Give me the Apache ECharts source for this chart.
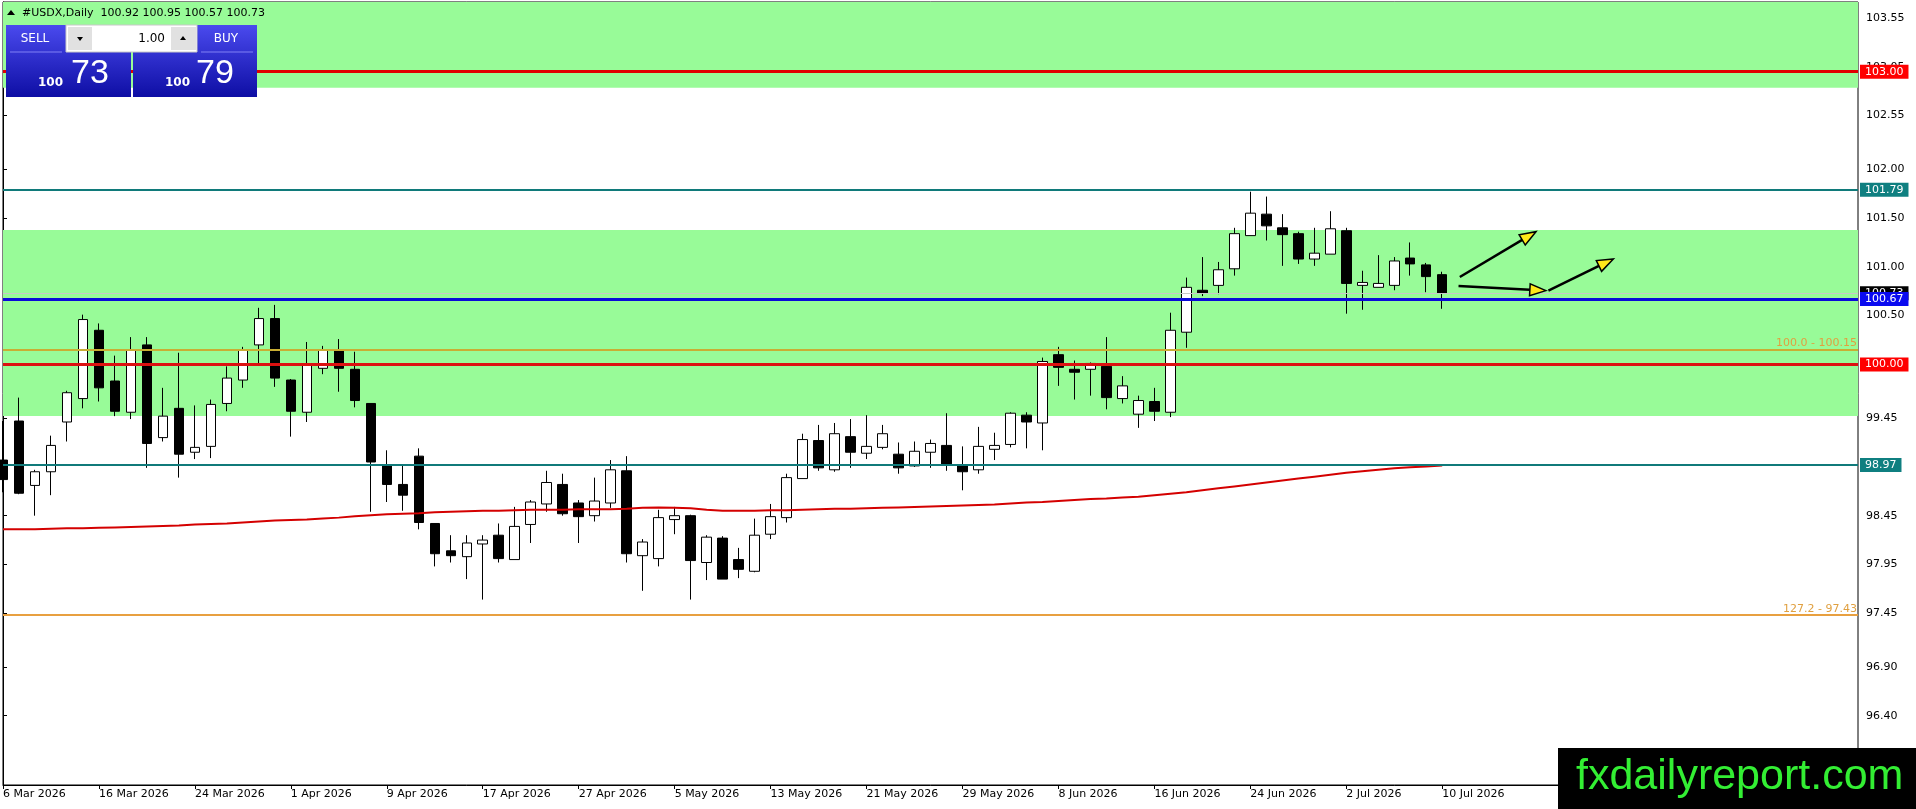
<!DOCTYPE html>
<html lang="en">
<head>
    <meta charset="UTF-8">
    <title>USDX daily</title>
    <script src="https://cdn.jsdelivr.net/npm/echarts@6/dist/echarts.min.js"></script>
    <style>
        html, body { margin: 0; padding: 0; background: #fff; }
        #main { width: 1916px; height: 809px; }
    </style>
</head>
<body>
<div id="main"></div>
<script>
    // daily bars, 6 Mar 2026 .. 10 Jul 2026
    const dates = [
        '6 Mar 2026', '9 Mar 2026', '10 Mar 2026', '11 Mar 2026', '12 Mar 2026', '13 Mar 2026',
        '16 Mar 2026', '17 Mar 2026', '18 Mar 2026', '19 Mar 2026', '20 Mar 2026',
        '23 Mar 2026', '24 Mar 2026', '25 Mar 2026', '26 Mar 2026', '27 Mar 2026',
        '30 Mar 2026', '31 Mar 2026', '1 Apr 2026', '2 Apr 2026', '3 Apr 2026',
        '6 Apr 2026', '7 Apr 2026', '8 Apr 2026', '9 Apr 2026', '10 Apr 2026',
        '13 Apr 2026', '14 Apr 2026', '15 Apr 2026', '16 Apr 2026', '17 Apr 2026',
        '20 Apr 2026', '21 Apr 2026', '22 Apr 2026', '23 Apr 2026', '24 Apr 2026',
        '27 Apr 2026', '28 Apr 2026', '29 Apr 2026', '30 Apr 2026', '1 May 2026',
        '4 May 2026', '5 May 2026', '6 May 2026', '7 May 2026', '8 May 2026',
        '11 May 2026', '12 May 2026', '13 May 2026', '14 May 2026', '15 May 2026',
        '18 May 2026', '19 May 2026', '20 May 2026', '21 May 2026', '22 May 2026',
        '25 May 2026', '26 May 2026', '27 May 2026', '28 May 2026', '29 May 2026',
        '1 Jun 2026', '2 Jun 2026', '3 Jun 2026', '4 Jun 2026', '5 Jun 2026',
        '8 Jun 2026', '9 Jun 2026', '10 Jun 2026', '11 Jun 2026', '12 Jun 2026',
        '15 Jun 2026', '16 Jun 2026', '17 Jun 2026', '18 Jun 2026', '19 Jun 2026',
        '22 Jun 2026', '23 Jun 2026', '24 Jun 2026', '25 Jun 2026', '26 Jun 2026',
        '29 Jun 2026', '30 Jun 2026', '1 Jul 2026', '2 Jul 2026', '3 Jul 2026',
        '6 Jul 2026', '7 Jul 2026', '8 Jul 2026', '9 Jul 2026', '10 Jul 2026'
    ];
    const emptySlots = 26; // blank space right of the last bar

    const opens = [
        99.02, 99.42, 98.76, 98.90, 99.41, 99.65, 100.35, 99.83, 99.51, 100.20,
        99.25, 99.55, 99.10, 99.16, 99.60, 99.84, 100.20, 100.47, 99.84, 99.51,
        99.96, 100.15, 99.95, 99.60, 98.96, 98.77, 99.06, 98.37, 98.09, 98.03,
        98.16, 98.25, 98.00, 98.36, 98.57, 98.77, 98.58, 98.45, 98.58, 98.91,
        98.04, 98.01, 98.41, 98.45, 97.97, 98.22, 98.00, 97.88, 98.26, 98.43,
        98.83, 99.22, 98.92, 99.26, 99.09, 99.15, 99.08, 98.96, 99.10, 99.17,
        98.96, 98.92, 99.13, 99.18, 99.48, 99.40, 100.10, 99.95, 99.95, 99.98,
        99.65, 99.49, 99.62, 99.51, 100.33, 100.76, 100.81, 100.98, 101.32, 101.54,
        101.40, 101.34, 101.08, 101.13, 101.37, 100.81, 100.79, 100.81, 101.09, 101.02,
        100.92
    ];
    const highs = [
        99.42, 99.66, 98.92, 99.27, 99.73, 100.51, 100.42, 100.09, 100.28, 100.28,
        99.76, 100.12, 99.58, 99.64, 99.98, 100.18, 100.58, 100.61, 99.85, 100.23,
        100.19, 100.26, 100.13, 99.60, 99.12, 98.96, 99.14, 98.37, 98.25, 98.25,
        98.25, 98.37, 98.54, 98.61, 98.91, 98.88, 98.61, 98.84, 99.02, 99.06,
        98.21, 98.51, 98.54, 98.46, 98.25, 98.24, 98.12, 98.42, 98.57, 98.88,
        99.29, 99.38, 99.40, 99.44, 99.48, 99.38, 99.20, 99.21, 99.23, 99.50,
        99.16, 99.36, 99.30, 99.51, 99.51, 100.07, 100.18, 100.04, 100.02, 100.28,
        99.88, 99.68, 99.76, 100.53, 100.89, 101.10, 101.05, 101.40, 101.77, 101.72,
        101.54, 101.36, 101.40, 101.57, 101.40, 100.96, 101.12, 101.10, 101.25, 101.04,
        100.95
    ];
    const lows = [
        98.69, 98.67, 98.45, 98.66, 99.21, 99.55, 99.62, 99.47, 99.44, 98.94,
        99.21, 98.84, 99.03, 99.04, 99.52, 99.76, 100.01, 99.77, 99.26, 99.41,
        99.90, 99.72, 99.56, 98.49, 98.59, 98.50, 98.31, 97.93, 97.97, 97.80,
        97.59, 97.97, 98.00, 98.17, 98.49, 98.45, 98.17, 98.39, 98.53, 97.97,
        97.68, 97.93, 98.26, 97.59, 97.79, 97.80, 97.81, 97.87, 98.21, 98.38,
        98.83, 98.91, 98.90, 98.94, 99.03, 99.13, 98.88, 98.95, 98.94, 98.91,
        98.71, 98.88, 99.02, 99.15, 99.14, 99.12, 99.78, 99.64, 99.68, 99.54,
        99.60, 99.35, 99.42, 99.46, 100.17, 100.70, 100.72, 100.91, 101.32, 101.27,
        101.01, 101.03, 101.01, 101.13, 100.52, 100.56, 100.79, 100.76, 100.91, 100.74,
        100.57
    ];
    const closes = [
        98.82, 98.68, 98.90, 99.17, 99.71, 100.46, 99.76, 99.52, 100.15, 99.19,
        99.47, 99.08, 99.15, 99.59, 99.86, 100.15, 100.47, 99.86, 99.52, 100.00,
        100.15, 99.96, 99.63, 99.00, 98.77, 98.66, 98.38, 98.06, 98.04, 98.17,
        98.20, 98.01, 98.34, 98.59, 98.79, 98.47, 98.44, 98.60, 98.92, 98.06,
        98.18, 98.43, 98.45, 97.99, 98.23, 97.80, 97.90, 98.25, 98.44, 98.84,
        99.23, 98.94, 99.29, 99.10, 99.16, 99.29, 98.94, 99.11, 99.19, 98.98,
        98.90, 99.16, 99.17, 99.50, 99.41, 100.03, 99.97, 99.92, 100.01, 99.66,
        99.78, 99.63, 99.52, 100.35, 100.79, 100.73, 100.97, 101.34, 101.55, 101.42,
        101.33, 101.08, 101.14, 101.39, 100.83, 100.84, 100.83, 101.06, 101.03, 100.90,
        100.73
    ];
    // red moving average
    const maValues = [
        98.31, 98.31, 98.31, 98.315, 98.32, 98.32, 98.325, 98.33, 98.335, 98.34,
        98.345, 98.35, 98.36, 98.365, 98.37, 98.38, 98.39, 98.40, 98.405, 98.41,
        98.42, 98.43, 98.445, 98.455, 98.465, 98.47, 98.475, 98.485, 98.49, 98.495,
        98.50, 98.50, 98.505, 98.51, 98.51, 98.51, 98.515, 98.515, 98.515, 98.52,
        98.53, 98.535, 98.53, 98.525, 98.51, 98.50, 98.50, 98.50, 98.505, 98.505,
        98.51, 98.515, 98.52, 98.52, 98.525, 98.53, 98.535, 98.54, 98.545, 98.55,
        98.555, 98.56, 98.565, 98.575, 98.585, 98.59, 98.60, 98.61, 98.62, 98.625,
        98.635, 98.645, 98.66, 98.675, 98.69, 98.71, 98.73, 98.75, 98.77, 98.79,
        98.81, 98.83, 98.85, 98.87, 98.89, 98.905, 98.92, 98.935, 98.945, 98.955,
        98.965
    ];

    const priceTicks = [103.55, 103.05, 102.55, 102.00, 101.50, 101.00, 100.50, 100.00,
        99.45, 98.95, 98.45, 97.95, 97.45, 96.90, 96.40];
    const priceMin = 95.69;
    const priceMax = 103.714;

    // green zones [bottom, top]
    const zones = [[102.836, 103.714], [99.472, 101.378]];

    // arrows: [fromBar, fromPrice, toBar, toPrice]
    const arrows = [
        [91.1, 100.896, 95.86, 101.36],
        [91.02, 100.804, 96.48, 100.756],
        [96.64, 100.756, 100.7, 101.081]
    ];

    const header = '#USDX,Daily  100.92 100.95 100.57 100.73';
    const sellPrice = ['100', '73'];
    const buyPrice = ['100', '79'];
    const lotSize = '1.00';

    const font = 'DejaVu Sans';
    const totalSlots = dates.length + emptySlots;
    const categories = dates.concat(new Array(emptySlots).fill(''));
    const candles = dates.map(function (d, i) {
        return [opens[i], closes[i], lows[i], highs[i]];
    });
    const showDate = function (i) { return i % 6 === 0 && i < dates.length; };

    function priceTag(value, bg, line, width) {
        return {
            yAxis: value,
            lineStyle: {color: line, width: width, type: 'solid'},
            label: {
                show: true, position: 'end', distance: 2,
                formatter: value.toFixed(2),
                color: '#fff', backgroundColor: bg,
                fontFamily: font, fontSize: 11, lineHeight: 13,
                padding: [1, 5, 0, 5]
            }
        };
    }
    function fiboLevel(value, text, line) {
        return {
            yAxis: value,
            lineStyle: {color: line, width: 2, type: 'solid'},
            label: {
                show: true, position: 'insideEndTop', distance: 1,
                formatter: text, color: '#E0A040',
                fontFamily: font, fontSize: 11
            }
        };
    }

    function renderArrow(params, api) {
        const a = api.coord([api.value(0), api.value(1)]);
        const b = api.coord([api.value(2), api.value(3)]);
        const dx = b[0] - a[0], dy = b[1] - a[1];
        const len = Math.sqrt(dx * dx + dy * dy);
        const ux = dx / len, uy = dy / len;
        const head = 16, half = 6;
        const bx = b[0] - ux * head, by = b[1] - uy * head;
        return {
            type: 'group',
            children: [{
                type: 'line',
                shape: {x1: a[0], y1: a[1], x2: bx, y2: by},
                style: {stroke: '#000', lineWidth: 2.5}
            }, {
                type: 'polygon',
                shape: {points: [[b[0], b[1]], [bx - uy * half, by + ux * half], [bx + uy * half, by - ux * half]]},
                style: {fill: '#FFE81A', stroke: '#000', lineWidth: 1.5}
            }]
        };
    }

    const blueGrad = new echarts.graphic.LinearGradient(0, 0, 0, 1, [
        {offset: 0, color: '#4A4AEE'},
        {offset: 1, color: '#0E0EA4'}
    ]);

    const myChart = echarts.init(document.getElementById('main'));
    const option = {
        animation: false,
        backgroundColor: '#fff',
        grid: {
            left: 3, right: 58, top: 2, bottom: 24,
            show: true, borderColor: '#000', borderWidth: 1,
            outerBoundsMode: 'none'
        },
        xAxis: [{
            type: 'category',
            data: categories,
            boundaryGap: false,
            axisLine: {lineStyle: {color: '#000', width: 1}},
            axisTick: {show: true, interval: showDate, length: 4, lineStyle: {color: '#000'}},
            axisLabel: {
                interval: showDate, align: 'left', margin: 4,
                color: '#000', fontFamily: font, fontSize: 11
            },
            splitLine: {show: false}
        }, {
            type: 'value',
            min: 0, max: totalSlots - 1,
            show: false
        }],
        yAxis: {
            type: 'value',
            position: 'right',
            min: priceMin, max: priceMax,
            axisLine: {show: true, lineStyle: {color: '#000', width: 1}},
            axisTick: {show: true, customValues: priceTicks, length: 4, lineStyle: {color: '#000'}},
            axisLabel: {
                customValues: priceTicks, margin: 8,
                formatter: function (v) { return v.toFixed(2); },
                color: '#000', fontFamily: font, fontSize: 11
            },
            splitLine: {show: false}
        },
        series: [{
            name: 'zones',
            type: 'line',
            data: [],
            z: 1,
            silent: true,
            markArea: {
                silent: true,
                itemStyle: {color: '#98FB98'},
                data: zones.map(function (z) { return [{yAxis: z[0]}, {yAxis: z[1]}]; })
            }
        }, {
            name: 'USDX',
            type: 'candlestick',
            data: candles,
            z: 2,
            barWidth: 10,
            itemStyle: {
                color: '#fff', color0: '#000',
                borderColor: '#000', borderColor0: '#000', borderWidth: 1
            }
        }, {
            name: 'MA',
            type: 'line',
            data: maValues,
            z: 3,
            showSymbol: false,
            symbol: 'none',
            lineStyle: {color: '#D40000', width: 2}
        }, {
            name: 'levels',
            type: 'line',
            data: [],
            z: 3,
            silent: true,
            markLine: {
                silent: true,
                symbol: 'none',
                data: [
                    priceTag(103.00, '#FF0000', '#E00000', 3),
                    priceTag(101.79, '#0F7F80', '#107A7A', 2),
                    fiboLevel(100.15, '100.0 - 100.15', '#C9AE33'),
                    priceTag(100.00, '#FF0000', '#DD1111', 3),
                    priceTag(98.97, '#0F7F80', '#107A7A', 2),
                    fiboLevel(97.43, '127.2 - 97.43', '#E8A040'),
                    priceTag(100.73, '#000', '#C8C8C8', 1),
                    priceTag(100.67, '#0A0AF0', '#0A0AD8', 3)
                ]
            }
        }, {
            name: 'arrows',
            type: 'custom',
            xAxisIndex: 1,
            yAxisIndex: 0,
            z: 5,
            silent: true,
            data: arrows,
            encode: {x: [0, 2], y: [1, 3]},
            renderItem: renderArrow
        }],
        graphic: [
            // header line
            {type: 'polygon', z: 100, shape: {points: [[7, 15], [15, 15], [11, 10]]}, style: {fill: '#000'}},
            {type: 'text', z: 100, x: 22, y: 13, style: {text: header, fill: '#000', font: '11px "DejaVu Sans"', verticalAlign: 'middle'}},
            // one-click trading panel
            {type: 'rect', z: 100, shape: {x: 6, y: 25, width: 125, height: 72}, style: {fill: blueGrad}},
            {type: 'rect', z: 100, shape: {x: 133, y: 25, width: 124, height: 72}, style: {fill: blueGrad}},
            {type: 'line', z: 101, shape: {x1: 10, y1: 52, x2: 62, y2: 52}, style: {stroke: '#8080F4', lineWidth: 1}},
            {type: 'line', z: 101, shape: {x1: 201, y1: 52, x2: 253, y2: 52}, style: {stroke: '#8080F4', lineWidth: 1}},
            {type: 'rect', z: 101, shape: {x: 66, y: 25, width: 131, height: 27}, style: {fill: '#fff', stroke: '#C8C8C8', lineWidth: 1}},
            {type: 'rect', z: 102, shape: {x: 68, y: 27, width: 24, height: 23}, style: {fill: '#E1E1E1'}},
            {type: 'rect', z: 102, shape: {x: 171, y: 27, width: 25, height: 23}, style: {fill: '#E1E1E1'}},
            {type: 'polygon', z: 103, shape: {points: [[77, 37], [83, 37], [80, 41]]}, style: {fill: '#000'}},
            {type: 'polygon', z: 103, shape: {points: [[180, 40], [186, 40], [183, 36]]}, style: {fill: '#000'}},
            {type: 'text', z: 103, x: 165, y: 39, style: {text: lotSize, fill: '#000', font: '12px "DejaVu Sans"', align: 'right', verticalAlign: 'middle'}},
            {type: 'text', z: 103, x: 35, y: 39, style: {text: 'SELL', fill: '#fff', font: '12px "DejaVu Sans"', align: 'center', verticalAlign: 'middle'}},
            {type: 'text', z: 103, x: 226, y: 39, style: {text: 'BUY', fill: '#fff', font: '12px "DejaVu Sans"', align: 'center', verticalAlign: 'middle'}},
            {type: 'text', z: 103, x: 38, y: 83, style: {text: sellPrice[0], fill: '#fff', font: 'bold 12px "DejaVu Sans"', verticalAlign: 'middle'}},
            {type: 'text', z: 103, x: 71, y: 74, style: {text: sellPrice[1], fill: '#fff', font: '34px "Liberation Sans"', verticalAlign: 'middle'}},
            {type: 'text', z: 103, x: 165, y: 83, style: {text: buyPrice[0], fill: '#fff', font: 'bold 12px "DejaVu Sans"', verticalAlign: 'middle'}},
            {type: 'text', z: 103, x: 196, y: 74, style: {text: buyPrice[1], fill: '#fff', font: '34px "Liberation Sans"', verticalAlign: 'middle'}},
            // watermark
            {type: 'rect', z: 100, shape: {x: 1558, y: 748, width: 358, height: 61}, style: {fill: '#000'}},
            {type: 'text', z: 101, x: 1576, y: 777, style: {text: 'fxdailyreport.com', fill: '#33EE33', font: '43px "Liberation Sans"', verticalAlign: 'middle'}}
        ]
    };
    myChart.setOption(option);
</script>
</body>
</html>
